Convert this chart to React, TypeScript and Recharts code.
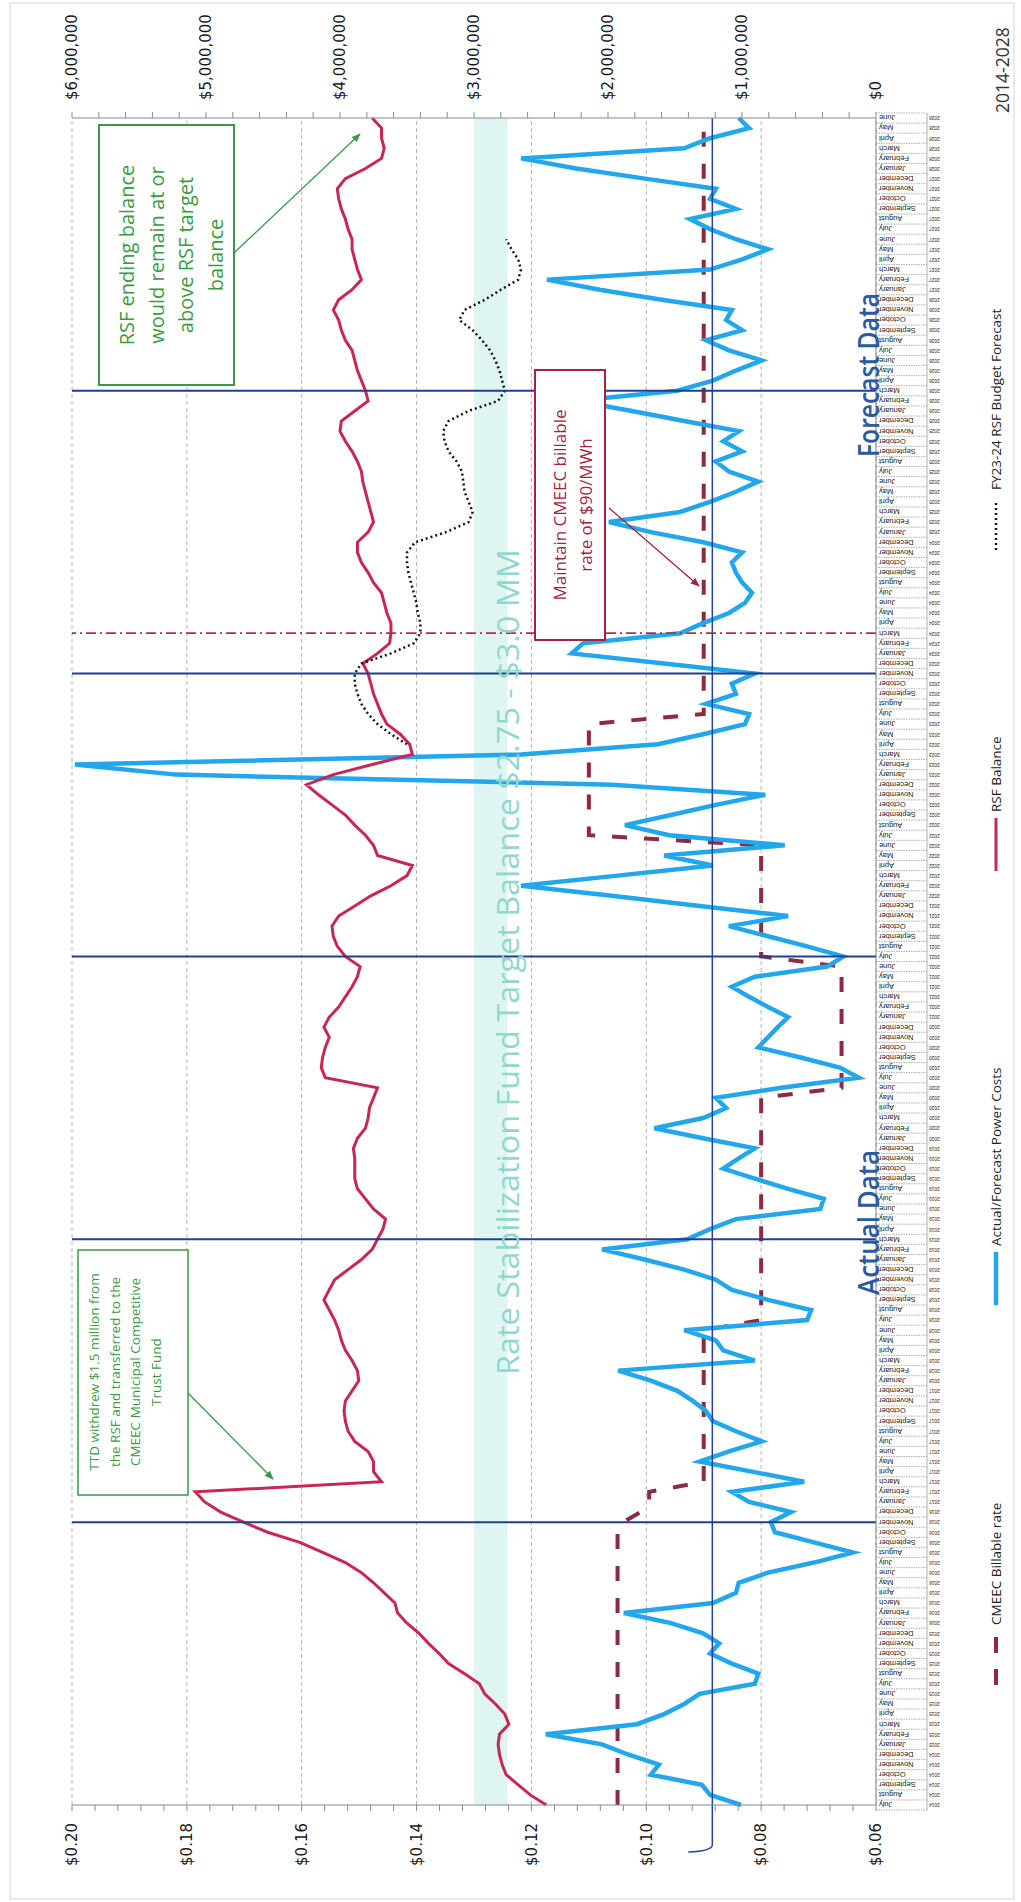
import React from 'react';
import { LineChart, Line, XAxis, YAxis, ReferenceLine, ReferenceArea } from 'recharts';

// Drawing is laid out landscape, then turned a quarter turn for the portrait page.
const CHART_W = 1902;
const CHART_H = 1021;
const LEFT_W = 97;
const RIGHT_W = 118;
const TOP = 72;
const AXIS_H = 145;

const FONT = '"Open Sans", "DejaVu Sans", sans-serif';

const MONTH_NAMES = [
  'January', 'February', 'March', 'April', 'May', 'June',
  'July', 'August', 'September', 'October', 'November', 'December',
];
const FIRST_YEAR = 2014;
const FIRST_MONTH = 6; // July
const FISCAL_YEARS = 14; // FY15 .. FY28

// Actual / forecast power cost, $/kWh — one row per fiscal year (Jul..Jun)
const POWER_COST = [
  0.0835, 0.0889, 0.0903, 0.0992, 0.0978, 0.1032, 0.1077, 0.1175, 0.1016, 0.0969, 0.0934, 0.0907,
  0.0811, 0.0805, 0.0851, 0.0889, 0.0873, 0.0901, 0.0957, 0.1039, 0.0884, 0.0844, 0.0839, 0.0788,
  0.0708, 0.0640, 0.0708, 0.0776, 0.0783, 0.0748, 0.0821, 0.0851, 0.0725, 0.0816, 0.0907, 0.0856,
  0.0799, 0.0844, 0.0884, 0.0896, 0.0919, 0.0946, 0.0992, 0.1049, 0.0811, 0.0866, 0.0879, 0.0934,
  0.0720, 0.0713, 0.0788, 0.0851, 0.0879, 0.0934, 0.1003, 0.1077, 0.0929, 0.0889, 0.0844, 0.0697,
  0.0691, 0.0753, 0.0811, 0.0866, 0.0839, 0.0811, 0.0901, 0.0986, 0.0901, 0.0861, 0.0879, 0.0765,
  0.0630, 0.0663, 0.0731, 0.0805, 0.0788, 0.0771, 0.0753, 0.0788, 0.0821, 0.0851, 0.0811, 0.0685,
  0.0657, 0.0720, 0.0788, 0.0856, 0.0753, 0.0907, 0.1060, 0.1218, 0.1050, 0.0884, 0.0969, 0.0759,
  0.0960, 0.1037, 0.0957, 0.0879, 0.0793, 0.1060, 0.1819, 0.1995, 0.1218, 0.0980, 0.0901, 0.0828,
  0.0821, 0.0896, 0.0844, 0.0851, 0.0811, 0.0969, 0.1130, 0.1110, 0.0941, 0.0901, 0.0856, 0.0828,
  0.0816, 0.0833, 0.0844, 0.0851, 0.0833, 0.0901, 0.0992, 0.1065, 0.0941, 0.0889, 0.0844, 0.0805,
  0.0856, 0.0879, 0.0833, 0.0866, 0.0839, 0.0934, 0.1025, 0.1122, 0.0946, 0.0884, 0.0844, 0.0799,
  0.0856, 0.0896, 0.0833, 0.0861, 0.0851, 0.0973, 0.1081, 0.1173, 0.0889, 0.0833, 0.0788, 0.0844,
  0.0889, 0.0924, 0.0844, 0.0889, 0.0879, 0.1002, 0.1122, 0.1218, 0.0934, 0.0889, 0.0821, 0.0839,
];

// CMEEC billable rate, $/kWh
const BILLABLE_RATE = [
  0.105, 0.105, 0.105, 0.105, 0.105, 0.105, 0.105, 0.105, 0.105, 0.105, 0.105, 0.105,
  0.105, 0.105, 0.105, 0.105, 0.105, 0.105, 0.105, 0.105, 0.105, 0.105, 0.105, 0.105,
  0.105, 0.105, 0.105, 0.105, 0.104, 0.101, 0.0995, 0.0995, 0.09, 0.09, 0.09, 0.09,
  0.09, 0.09, 0.09, 0.09, 0.09, 0.09, 0.09, 0.09, 0.09, 0.09, 0.09, 0.09,
  0.08, 0.08, 0.08, 0.08, 0.08, 0.08, 0.08, 0.08, 0.08, 0.08, 0.08, 0.08,
  0.08, 0.08, 0.08, 0.08, 0.08, 0.08, 0.08, 0.08, 0.08, 0.08, 0.08, 0.066,
  0.066, 0.066, 0.066, 0.066, 0.066, 0.066, 0.066, 0.066, 0.066, 0.066, 0.066, 0.066,
  0.08, 0.08, 0.08, 0.08, 0.08, 0.08, 0.08, 0.08, 0.08, 0.08, 0.08, 0.08,
  0.11, 0.11, 0.11, 0.11, 0.11, 0.11, 0.11, 0.11, 0.11, 0.11, 0.11, 0.11,
  0.09, 0.09, 0.09, 0.09, 0.09, 0.09, 0.09, 0.09, 0.09, 0.09, 0.09, 0.09,
  0.09, 0.09, 0.09, 0.09, 0.09, 0.09, 0.09, 0.09, 0.09, 0.09, 0.09, 0.09,
  0.09, 0.09, 0.09, 0.09, 0.09, 0.09, 0.09, 0.09, 0.09, 0.09, 0.09, 0.09,
  0.09, 0.09, 0.09, 0.09, 0.09, 0.09, 0.09, 0.09, 0.09, 0.09, 0.09, 0.09,
  0.09, 0.09, 0.09, 0.09, 0.09, 0.09, 0.09, 0.09, 0.09, 0.09, 0.09, 0.09,
];

// RSF month-end balance, $ millions
const RSF_BALANCE = [
  2.46, 2.58, 2.67, 2.76, 2.79, 2.81, 2.82, 2.81, 2.74, 2.77, 2.84, 2.92,
  2.96, 3.07, 3.19, 3.26, 3.34, 3.41, 3.50, 3.57, 3.59, 3.67, 3.75, 3.84,
  3.96, 4.13, 4.30, 4.54, 4.72, 4.89, 5.01, 5.08, 3.69, 3.75, 3.75, 3.79,
  3.89, 3.94, 3.96, 3.97, 3.96, 3.91, 3.86, 3.87, 3.91, 3.96, 3.99, 4.01,
  4.04, 4.08, 4.12, 4.08, 4.04, 3.94, 3.84, 3.76, 3.72, 3.68, 3.66, 3.75,
  3.81, 3.87, 3.89, 3.89, 3.89, 3.90, 3.87, 3.81, 3.79, 3.78, 3.75, 3.72,
  4.11, 4.14, 4.13, 4.11, 4.08, 4.12, 4.08, 4.01, 3.96, 3.91, 3.87, 3.85,
  3.96, 4.02, 4.05, 4.06, 4.01, 3.89, 3.77, 3.62, 3.50, 3.46, 3.72, 3.75,
  3.81, 3.89, 3.96, 4.06, 4.16, 4.25, 4.05, 3.76, 3.46, 3.48, 3.55, 3.65,
  3.69, 3.72, 3.75, 3.77, 3.79, 3.83, 3.72, 3.63, 3.62, 3.62, 3.65, 3.67,
  3.69, 3.75, 3.79, 3.84, 3.87, 3.87, 3.79, 3.75, 3.77, 3.79, 3.81, 3.83,
  3.84, 3.87, 3.91, 3.96, 4.00, 3.99, 3.89, 3.79, 3.81, 3.84, 3.87, 3.89,
  3.91, 3.96, 3.99, 4.01, 4.05, 4.01, 3.91, 3.84, 3.87, 3.89, 3.91, 3.91,
  3.94, 3.96, 3.99, 4.01, 4.02, 3.96, 3.81, 3.69, 3.67, 3.69, 3.69, 3.76,
];

// FY23-24 budget forecast of the RSF balance, $ millions (April 2023 – June 2027)
const N = null;
const RSF_FORECAST = [
  N, N, N, N, N, N, N, N, N, N, N, N,
  N, N, N, N, N, N, N, N, N, N, N, N,
  N, N, N, N, N, N, N, N, N, N, N, N,
  N, N, N, N, N, N, N, N, N, N, N, N,
  N, N, N, N, N, N, N, N, N, N, N, N,
  N, N, N, N, N, N, N, N, N, N, N, N,
  N, N, N, N, N, N, N, N, N, N, N, N,
  N, N, N, N, N, N, N, N, N, N, N, N,
  N, N, N, N, N, N, N, N, N, 3.50, 3.62, 3.72,
  3.79, 3.84, 3.87, 3.89, 3.89, 3.84, 3.62, 3.45, 3.40, 3.40, 3.42, 3.43,
  3.45, 3.47, 3.49, 3.50, 3.50, 3.44, 3.21, 3.04, 3.01, 3.04, 3.07, 3.08,
  3.09, 3.13, 3.19, 3.22, 3.23, 3.19, 3.04, 2.82, 2.77, 2.79, 2.81, 2.84,
  2.88, 2.94, 3.01, 3.11, 3.07, 2.92, 2.80, 2.67, 2.65, 2.67, 2.72, 2.76,
  N, N, N, N, N, N, N, N, N, N, N, N,
];

const RATE_TICKS = [0.06, 0.08, 0.1, 0.12, 0.14, 0.16, 0.18, 0.2];
const MONEY_TICKS = [0, 1, 2, 3, 4, 5, 6];
const TARGET_BAND = [2.75, 3.0];
const MARKER_MONTHS = ['November 2016', 'March 2019', 'July 2021', 'November 2023', 'March 2026'];
const RATE_CHANGE_MONTH = 'March 2024';
const HELD_RATE_LINE = 0.0885;

// five minor steps between labelled ticks
const withMinor = (major: number[]) => {
  const out: number[] = [];
  major.forEach((v, i) => {
    out.push(v);
    if (i < major.length - 1) {
      const step = (major[i + 1] - v) / 5;
      for (let k = 1; k < 5; k++) out.push(+(v + step * k).toFixed(6));
    }
  });
  return out;
};
const isMajor = (v: number, list: number[]) => list.some((m) => Math.abs(m - v) < 1e-9);

const data = Array.from({ length: FISCAL_YEARS * 12 }, (_, i) => {
  const m = FIRST_MONTH + i;
  return {
    key: `${MONTH_NAMES[m % 12]} ${FIRST_YEAR + Math.floor(m / 12)}`,
    cost: POWER_COST[i],
    rate: BILLABLE_RATE[i],
    rsf: RSF_BALANCE[i],
    forecast: RSF_FORECAST[i],
  };
});

const HALF_BAND = (CHART_W - LEFT_W - RIGHT_W) / data.length / 2;

const MonthTick = (props: any) => {
  const { x, y, payload, index } = props;
  const [month, year] = String(payload.value).split(' ');
  return (
    <g transform={`translate(${x},${y})`}>
      {index === 0 && (
        <line x1={-HALF_BAND} x2={-HALF_BAND} y1={0} y2={51} stroke="#9a9a9a" strokeDasharray="1.5 1" strokeWidth={0.8} />
      )}
      <line x1={HALF_BAND} x2={HALF_BAND} y1={0} y2={51} stroke="#9a9a9a" strokeDasharray="1.5 1" strokeWidth={0.8} />
      <line x1={-HALF_BAND} x2={HALF_BAND} y1={51} y2={51} stroke="#9a9a9a" strokeWidth={0.8} />
      <text transform="rotate(-90)" x={-3} y={0} dy="0.35em" textAnchor="end" fontSize={7.5} fill="#222" fontFamily="Liberation Sans, Arial, sans-serif">
        {month}
      </text>
      <text transform="rotate(-90)" x={-53} y={0} dy="0.35em" textAnchor="end" fontSize={4.8} fill="#222" fontFamily="Liberation Sans, Arial, sans-serif">
        {year}
      </text>
    </g>
  );
};

// drawn guide at the held rate, running past the plot with a small hook
const HookLine = (p: any) => {
  const left = Math.min(p.x1, p.x2);
  const right = Math.max(p.x1, p.x2);
  const y = p.y1;
  return (
    <path
      d={`M${right},${y} L${left - 40},${y} Q${left - 46},${y} ${left - 47},${y - 24}`}
      fill="none"
      stroke={p.stroke}
      strokeWidth={p.strokeWidth}
    />
  );
};

const COLORS = {
  cost: '#22a6ec',
  rate: '#8e2b3e',
  rsf: '#c8284f',
  forecast: '#151515',
  navy: '#1f3f8f',
  green: '#3a9a44',
  maroon: '#a5223e',
};

const Overlay = () => (
  <svg width={CHART_W} height={CHART_H} style={{ position: 'absolute', left: 0, top: 0, pointerEvents: 'none' }}>
    <defs>
      <marker id="arrowGreen" viewBox="0 0 10 10" refX="9" refY="5" markerWidth="7" markerHeight="7" orient="auto">
        <path d="M0,1 L10,5 L0,9 z" fill={COLORS.green} />
      </marker>
      <marker id="arrowMaroon" viewBox="0 0 10 10" refX="9" refY="5" markerWidth="7" markerHeight="7" orient="auto">
        <path d="M0,1 L10,5 L0,9 z" fill={COLORS.maroon} />
      </marker>
    </defs>
    <rect x={3} y={10} width={1896} height={1004} fill="none" stroke="#d6d6d6" strokeWidth={1} />

    <text x={940} y={519} textAnchor="middle" fontSize={31} fill="#8fd8cf" fontFamily={FONT} textLength={826} lengthAdjust="spacingAndGlyphs">
      Rate Stabilization Fund Target Balance $2.75 - $3.0 MM
    </text>

    <text x={607} y={879} fontSize={28} fontWeight={600} fill="#2c5aa0" fontFamily={FONT} textLength={145} lengthAdjust="spacingAndGlyphs">
      Actual Data
    </text>
    <text x={1445} y={879} fontSize={28} fontWeight={600} fill="#2c5aa0" fontFamily={FONT} textLength={164} lengthAdjust="spacingAndGlyphs">
      Forecast Data
    </text>

    {/* RSF withdrawal note */}
    <rect x={407} y={78} width={245} height={110} fill="#fff" stroke={COLORS.green} strokeWidth={1.5} />
    {['TTD withdrew $1.5 million from', 'the RSF and transferred to the', 'CMEEC Municipal Competitive', 'Trust Fund'].map((t, i) => (
      <text key={t} x={530} y={99 + i * 20.5} textAnchor="middle" fontSize={13.5} fill={COLORS.green} fontFamily={FONT}>
        {t}
      </text>
    ))}
    <line x1={509} y1={188} x2={423} y2={273} stroke={COLORS.green} strokeWidth={1.3} markerEnd="url(#arrowGreen)" />

    {/* ending balance note */}
    <rect x={1517} y={99} width={260} height={135} fill="#fff" stroke={COLORS.green} strokeWidth={2} />
    {['RSF ending balance', 'would remain at or', 'above RSF target', 'balance'].map((t, i) => (
      <text key={t} x={1647} y={134 + i * 29.5} textAnchor="middle" fontSize={20} fill={COLORS.green} fontFamily={FONT}>
        {t}
      </text>
    ))}
    <line x1={1649} y1={234} x2={1768} y2={360} stroke={COLORS.green} strokeWidth={1.3} markerEnd="url(#arrowGreen)" />

    {/* held rate note */}
    <rect x={1262} y={535} width={270} height={70} fill="#fff" stroke={COLORS.maroon} strokeWidth={2} />
    {['Maintain CMEEC billable', 'rate of $90/MWh'].map((t, i) => (
      <text key={t} x={1397} y={566 + i * 26} textAnchor="middle" fontSize={17} fill={COLORS.maroon} fontFamily={FONT}>
        {t}
      </text>
    ))}
    <line x1={1394} y1={609} x2={1316} y2={699} stroke={COLORS.maroon} strokeWidth={1.3} markerEnd="url(#arrowMaroon)" />

    {/* legend */}
    <g fontFamily={FONT} fontSize={13.5} fill="#222">
      <line x1={217} x2={265} y1={996} y2={996} stroke={COLORS.rate} strokeWidth={4} strokeDasharray="16 16" />
      <text x={277} y={996} dy="0.35em">CMEEC Billable rate</text>
      <line x1={597} x2={650} y1={996} y2={996} stroke={COLORS.cost} strokeWidth={4.5} />
      <text x={656} y={996} dy="0.35em">Actual/Forecast Power Costs</text>
      <line x1={1031} x2={1084} y1={996} y2={996} stroke={COLORS.rsf} strokeWidth={3} />
      <text x={1090} y={996} dy="0.35em">RSF Balance</text>
      <line x1={1352} x2={1402} y1={996} y2={996} stroke={COLORS.forecast} strokeWidth={2.5} strokeDasharray="2 3" />
      <text x={1412} y={996} dy="0.35em">FY23-24 RSF Budget Forecast</text>
    </g>

    <text x={1789} y={1003} dy="0.35em" fontSize={17.5} fill="#333" fontFamily={FONT}>
      2014-2028
    </text>
  </svg>
);

const RSFChart = () => (
  <div style={{ position: 'relative', width: CHART_W, height: CHART_H }}>
    <LineChart width={CHART_W} height={CHART_H} data={data} margin={{ top: TOP, right: 0, bottom: 0, left: 0 }}>
      <XAxis
        dataKey="key"
        interval={0}
        height={AXIS_H}
        tick={MonthTick}
        tickLine={false}
        tickSize={0}
        tickMargin={0}
        axisLine={{ stroke: '#8a8a8a' }}
      />
      <YAxis
        yAxisId="rate"
        orientation="left"
        type="number"
        width={LEFT_W}
        domain={[RATE_TICKS[0], RATE_TICKS[RATE_TICKS.length - 1]]}
        ticks={withMinor(RATE_TICKS)}
        interval={0}
        allowDataOverflow
        tickFormatter={(v: number) => (isMajor(v, RATE_TICKS) ? `$${v.toFixed(2)}` : '')}
        tick={{ fontSize: 15, fill: '#1a1a1a', fontFamily: 'DejaVu Sans, sans-serif' }}
        tickSize={6}
        tickMargin={12}
        axisLine={{ stroke: '#8a8a8a' }}
        tickLine={{ stroke: '#8a8a8a' }}
      />
      <YAxis
        yAxisId="money"
        orientation="right"
        type="number"
        width={RIGHT_W}
        domain={[MONEY_TICKS[0], MONEY_TICKS[MONEY_TICKS.length - 1]]}
        ticks={withMinor(MONEY_TICKS)}
        interval={0}
        allowDataOverflow
        tickFormatter={(v: number) => (isMajor(v, MONEY_TICKS) ? `$${(v * 1e6).toLocaleString('en-US')}` : '')}
        tick={{ fontSize: 15, fill: '#1a1a1a', fontFamily: 'DejaVu Sans, sans-serif' }}
        tickSize={6}
        tickMargin={12}
        axisLine={{ stroke: '#8a8a8a' }}
        tickLine={{ stroke: '#8a8a8a' }}
      />

      <ReferenceArea yAxisId="money" y1={TARGET_BAND[0]} y2={TARGET_BAND[1]} fill="#d2f1ec" fillOpacity={0.7} stroke="none" />
      {RATE_TICKS.map((v) => (
        <ReferenceLine key={v} yAxisId="rate" y={v} stroke="#b3b3b3" strokeDasharray="4 3" strokeWidth={1} />
      ))}

      <Line yAxisId="rate" dataKey="rate" stroke={COLORS.rate} strokeWidth={4} strokeDasharray="15 17" dot={false} isAnimationActive={false} />
      <Line yAxisId="rate" dataKey="cost" stroke={COLORS.cost} strokeWidth={4.5} dot={false} isAnimationActive={false} />
      <Line yAxisId="money" dataKey="rsf" stroke={COLORS.rsf} strokeWidth={3} dot={false} isAnimationActive={false} />
      <Line yAxisId="money" dataKey="forecast" stroke={COLORS.forecast} strokeWidth={2.5} strokeDasharray="2 3" dot={false} isAnimationActive={false} />

      <ReferenceLine yAxisId="rate" y={HELD_RATE_LINE} stroke="#24449c" strokeWidth={1.5} shape={HookLine} />
      {MARKER_MONTHS.map((m) => (
        <ReferenceLine key={m} yAxisId="rate" x={m} stroke={COLORS.navy} strokeWidth={2} />
      ))}
      <ReferenceLine yAxisId="rate" x={RATE_CHANGE_MONTH} stroke="#c0274a" strokeWidth={1.8} strokeDasharray="10 4 2 4" />
    </LineChart>
    <Overlay />
  </div>
);

export default function App() {
  return (
    <div style={{ position: 'absolute', left: 0, top: 0, width: 1021, height: 1902, overflow: 'hidden', background: '#fff' }}>
      <div
        style={{
          position: 'absolute',
          left: 0,
          top: 0,
          width: CHART_W,
          height: CHART_H,
          transformOrigin: '0 0',
          transform: `translateY(${CHART_W}px) rotate(-90deg)`,
        }}
      >
        <RSFChart />
      </div>
    </div>
  );
}
